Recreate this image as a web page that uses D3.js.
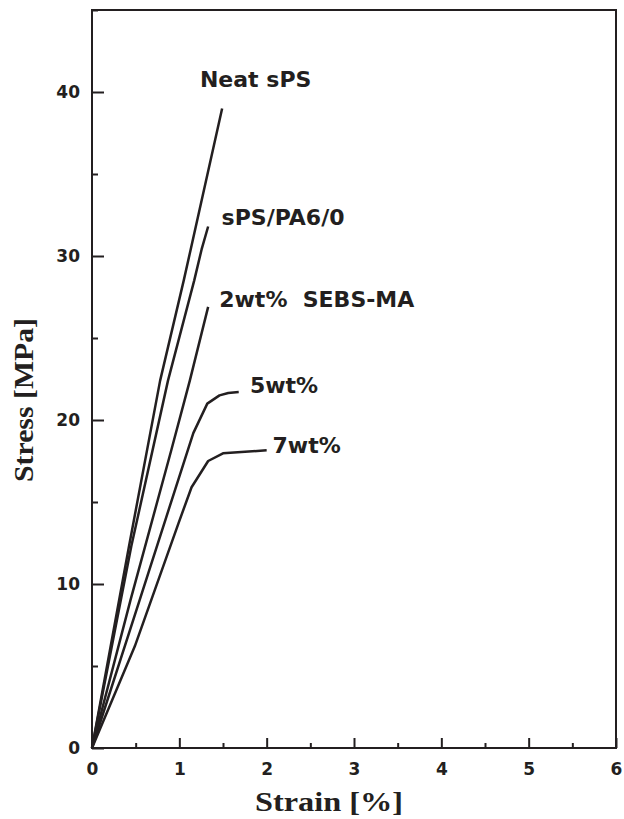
<!DOCTYPE html>
<html>
<head>
<meta charset="utf-8">
<script src="https://cdn.jsdelivr.net/npm/d3@7"></script>
<style>
  body { margin: 0; background: #fff; }
  .tick text { font-family: 'DejaVu Sans', sans-serif; font-weight: bold; font-size: 17px; fill: #231f20; }
  .tick line { stroke: #231f20; stroke-width: 2; }
  .lbl { font-family: 'DejaVu Sans', sans-serif; font-weight: bold; font-size: 22px; fill: #231f20; white-space: pre; }
  .title { font-family: 'Liberation Serif', 'Times New Roman', serif; font-weight: bold; font-size: 27px; fill: #231f20; }
</style>
</head>
<body>
<script>
  'use strict';

  // strain [%] / stress [MPa]
  var neatStrain = [0, 0.42, 0.78, 1.05, 1.13, 1.49];
  var neatStress = [0, 12.2, 22.4, 28.5, 30.4, 39.0];

  var pa6Strain = [0, 0.45, 0.87, 1.17, 1.255, 1.33];
  var pa6Stress = [0, 12.3, 22.4, 28.5, 30.4, 31.8];

  var wt2Strain = [0, 0.44, 0.91, 1.06, 1.12, 1.33];
  var wt2Stress = [0, 9.0, 18.2, 21.2, 22.4, 26.9];

  var wt5Strain = [0, 0.55, 1.16, 1.32, 1.46, 1.56, 1.68];
  var wt5Stress = [0, 9.1, 19.2, 21.0, 21.5, 21.65, 21.7];

  var wt7Strain = [0, 0.49, 0.99, 1.14, 1.20, 1.33, 1.50, 2.0];
  var wt7Stress = [0, 6.2, 13.7, 15.9, 16.4, 17.5, 17.97, 18.15];

  var seriesNames = ['Neat sPS', 'sPS/PA6/0', '2wt%  SEBS-MA', '5wt%', '7wt%'];
  // label anchor in data units (strain, stress)
  var labelStrain = [1.236, 1.484, 1.457, 1.808, 2.067];
  var labelStress = [40.3, 31.9, 26.9, 21.65, 18.0];

  var xTicks = [0, 1, 2, 3, 4, 5, 6];
  var xMinor = [0.5, 1.5, 2.5, 3.5, 4.5, 5.5];
  var yTicks = [0, 10, 20, 30, 40];
  var yMinor = [5, 15, 25, 35, 45];

  var width = 624, height = 819;
  var svg = d3.select('body').append('svg')
      .attr('width', width)
      .attr('height', height);

  var x = d3.scaleLinear().domain([0, 6]).range([92, 616]);
  var y = d3.scaleLinear().domain([0, 45]).range([748, 10]);

  var curves = [
    [neatStrain, neatStress],
    [pa6Strain, pa6Stress],
    [wt2Strain, wt2Stress],
    [wt5Strain, wt5Stress],
    [wt7Strain, wt7Stress]
  ];

  // axes, ticks pointing inward
  svg.append('g')
      .attr('transform', 'translate(0,' + y(0) + ')')
      .call(d3.axisBottom(x).tickValues(xMinor).tickSize(-5).tickFormat(''))
      .call(function (g) { g.select('.domain').remove(); });
  svg.append('g')
      .attr('transform', 'translate(0,' + y(0) + ')')
      .call(d3.axisBottom(x).tickValues(xTicks).tickSize(-10).tickPadding(15).tickFormat(d3.format('d')))
      .call(function (g) { g.select('.domain').remove(); });

  svg.append('g')
      .attr('transform', 'translate(' + x(0) + ',0)')
      .call(d3.axisLeft(y).tickValues(yMinor).tickSize(-6).tickFormat(''))
      .call(function (g) { g.select('.domain').remove(); });
  svg.append('g')
      .attr('transform', 'translate(' + x(0) + ',0)')
      .call(d3.axisLeft(y).tickValues(yTicks).tickSize(-12).tickPadding(12).tickFormat(d3.format('d')))
      .call(function (g) { g.select('.domain').remove(); });

  // frame
  svg.append('rect')
      .attr('x', x(0)).attr('y', y(45))
      .attr('width', x(6) - x(0)).attr('height', y(0) - y(45))
      .attr('fill', 'none')
      .attr('stroke', '#231f20')
      .attr('stroke-width', 2);

  var line = d3.line()
      .x(function (d) { return x(d[0]); })
      .y(function (d) { return y(d[1]); });

  svg.selectAll('path.curve')
      .data(curves)
      .enter()
      .append('path')
        .attr('class', 'curve')
        .attr('d', function (c) { return line(d3.zip(c[0], c[1])); })
        .attr('fill', 'none')
        .attr('stroke', '#231f20')
        .attr('stroke-width', 2.5)
        .attr('stroke-linejoin', 'round');

  svg.selectAll('text.lbl')
      .data(seriesNames)
      .enter()
      .append('text')
        .attr('class', 'lbl')
        .attr('x', function (d, i) { return x(labelStrain[i]); })
        .attr('y', function (d, i) { return y(labelStress[i]); })
        .text(function (d) { return d; });

  // axis titles
  svg.append('text')
      .attr('class', 'title')
      .attr('x', 255).attr('y', 811)
      .attr('textLength', 148)
      .attr('lengthAdjust', 'spacingAndGlyphs')
      .text('Strain [%]');

  svg.append('text')
      .attr('class', 'title')
      .attr('transform', 'translate(33,482) rotate(-90)')
      .attr('textLength', 164)
      .attr('lengthAdjust', 'spacingAndGlyphs')
      .text('Stress [MPa]');
</script>
</body>
</html>
